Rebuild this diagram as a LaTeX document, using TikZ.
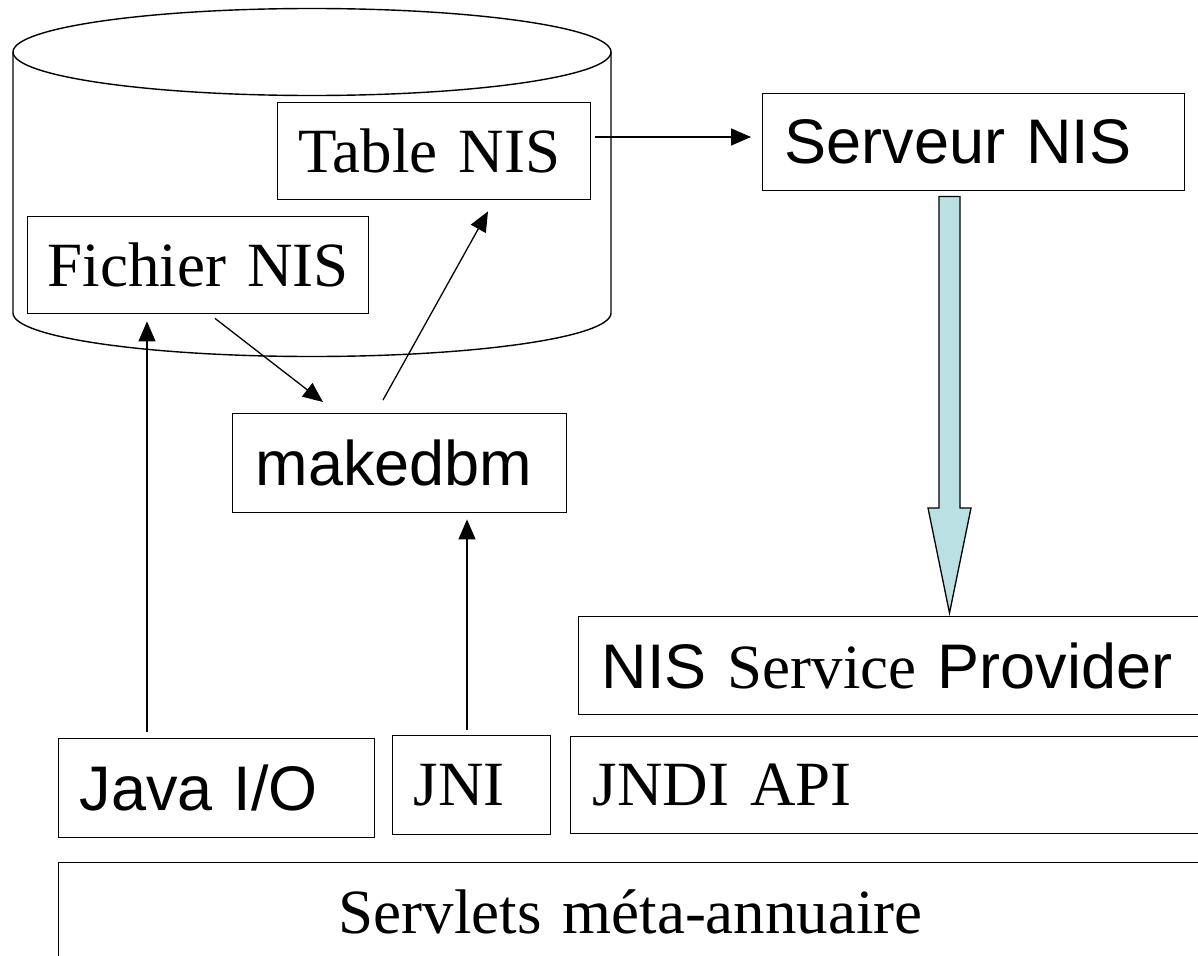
\documentclass[tikz,border=0pt]{standalone}
\usepackage{fontspec}
\setmainfont{Liberation Serif}
\newfontfamily\arialf{Liberation Sans}
\usetikzlibrary{arrows.meta,calc}
\definecolor{arrowfill}{RGB}{187,224,227}
\tikzset{
  box/.style={draw, line width=1.4pt, anchor=north west, align=left, inner ysep=0pt, fill=white},
  serif/.style={font=\fontsize{63}{70}\selectfont\rmfamily},
  sans/.style={font=\fontsize{63}{70}\selectfont\arialf},
  arr/.style={line width=1.3pt, -{Triangle[length=20pt,width=17pt]}},
  canline/.style={line width=1.4pt},
  blockarrow/.style={line width=1.3pt, fill=arrowfill, line join=miter},
}
\begin{document}
\begin{tikzpicture}[x=1pt, y=-1pt]
\useasboundingbox (0,0) rectangle (1198,955);
\clip (0,0) rectangle (1198,955);
\fill[white] (0,0) rectangle (1198,955);

% database cylinder
\draw[canline] (312,52) ellipse [x radius=299, y radius=43.5];
\draw[canline] (13,52) -- (13,313) arc[start angle=180, end angle=0, x radius=299, y radius=43.5] -- (611,52);

% boxes
\node[box, serif, inner xsep=21pt, text width=271pt, minimum height=97pt] (tablenis) at (277,102) {Table NIS};
\node[box, serif, inner xsep=20pt, text width=301pt, minimum height=97pt] (fichier) at (27,216) {Fichier NIS};
\node[box, sans, inner xsep=22pt, text width=378pt, minimum height=97pt] (serveur) at (762,93) {Serveur NIS};
\node[box, sans, inner xsep=23pt, text width=288pt, minimum height=99pt] (makedbm) at (232,413) {makedbm};
\node[box, sans, inner xsep=23pt, text width=584pt, minimum height=98pt] (nissp) at (578,616) {NIS {\rmfamily Service} Provider};
\node[box, sans, inner xsep=21pt, text width=274pt, minimum height=99pt] (javaio) at (58,738) {Java I/O};
\node[box, serif, inner xsep=21pt, text width=116pt, minimum height=99pt] (jni) at (392,735) {JNI};
\node[box, serif, inner xsep=22pt, text width=596pt, minimum height=97pt] (jndi) at (570,736) {JNDI API};
\node[box, serif, align=center, inner xsep=10pt, text width=1124pt, minimum height=99pt] (servlets) at (58,862) {Servlets méta-annuaire};

% connectors
\draw[arr] ($(tablenis.north east)+(4,35)$) -- ($(serveur.north west)+(-11,44)$);
\draw[arr] ($(fichier.south west)+(188,4)$) -- ($(makedbm.north west)+(91,-11)$);
\draw[arr] ($(makedbm.north west)+(151,-13)$) -- ($(tablenis.south west)+(211,11)$);
\draw[arr] ($(javaio.north west)+(89,-6)$) -- ($(fichier.south west)+(120,7)$);
\draw[arr] ($(jni.north west)+(75,-5)$) -- ($(makedbm.south west)+(235,6)$);

% block arrow Serveur NIS -> NIS Service Provider
\coordinate (bat) at ($(serveur.south west)+(187.5,5)$);
\coordinate (bab) at ($(nissp.north west)+(371.5,-3)$);
\draw[blockarrow] ($(bat)+(-10.5,0)$) -- ($(bat)+(10.5,0)$) -- ($(bab)+(10.5,-105)$) -- ($(bab)+(21.5,-105)$) -- (bab) -- ($(bab)+(-21.5,-105)$) -- ($(bab)+(-10.5,-105)$) -- cycle;
\end{tikzpicture}
\end{document}
